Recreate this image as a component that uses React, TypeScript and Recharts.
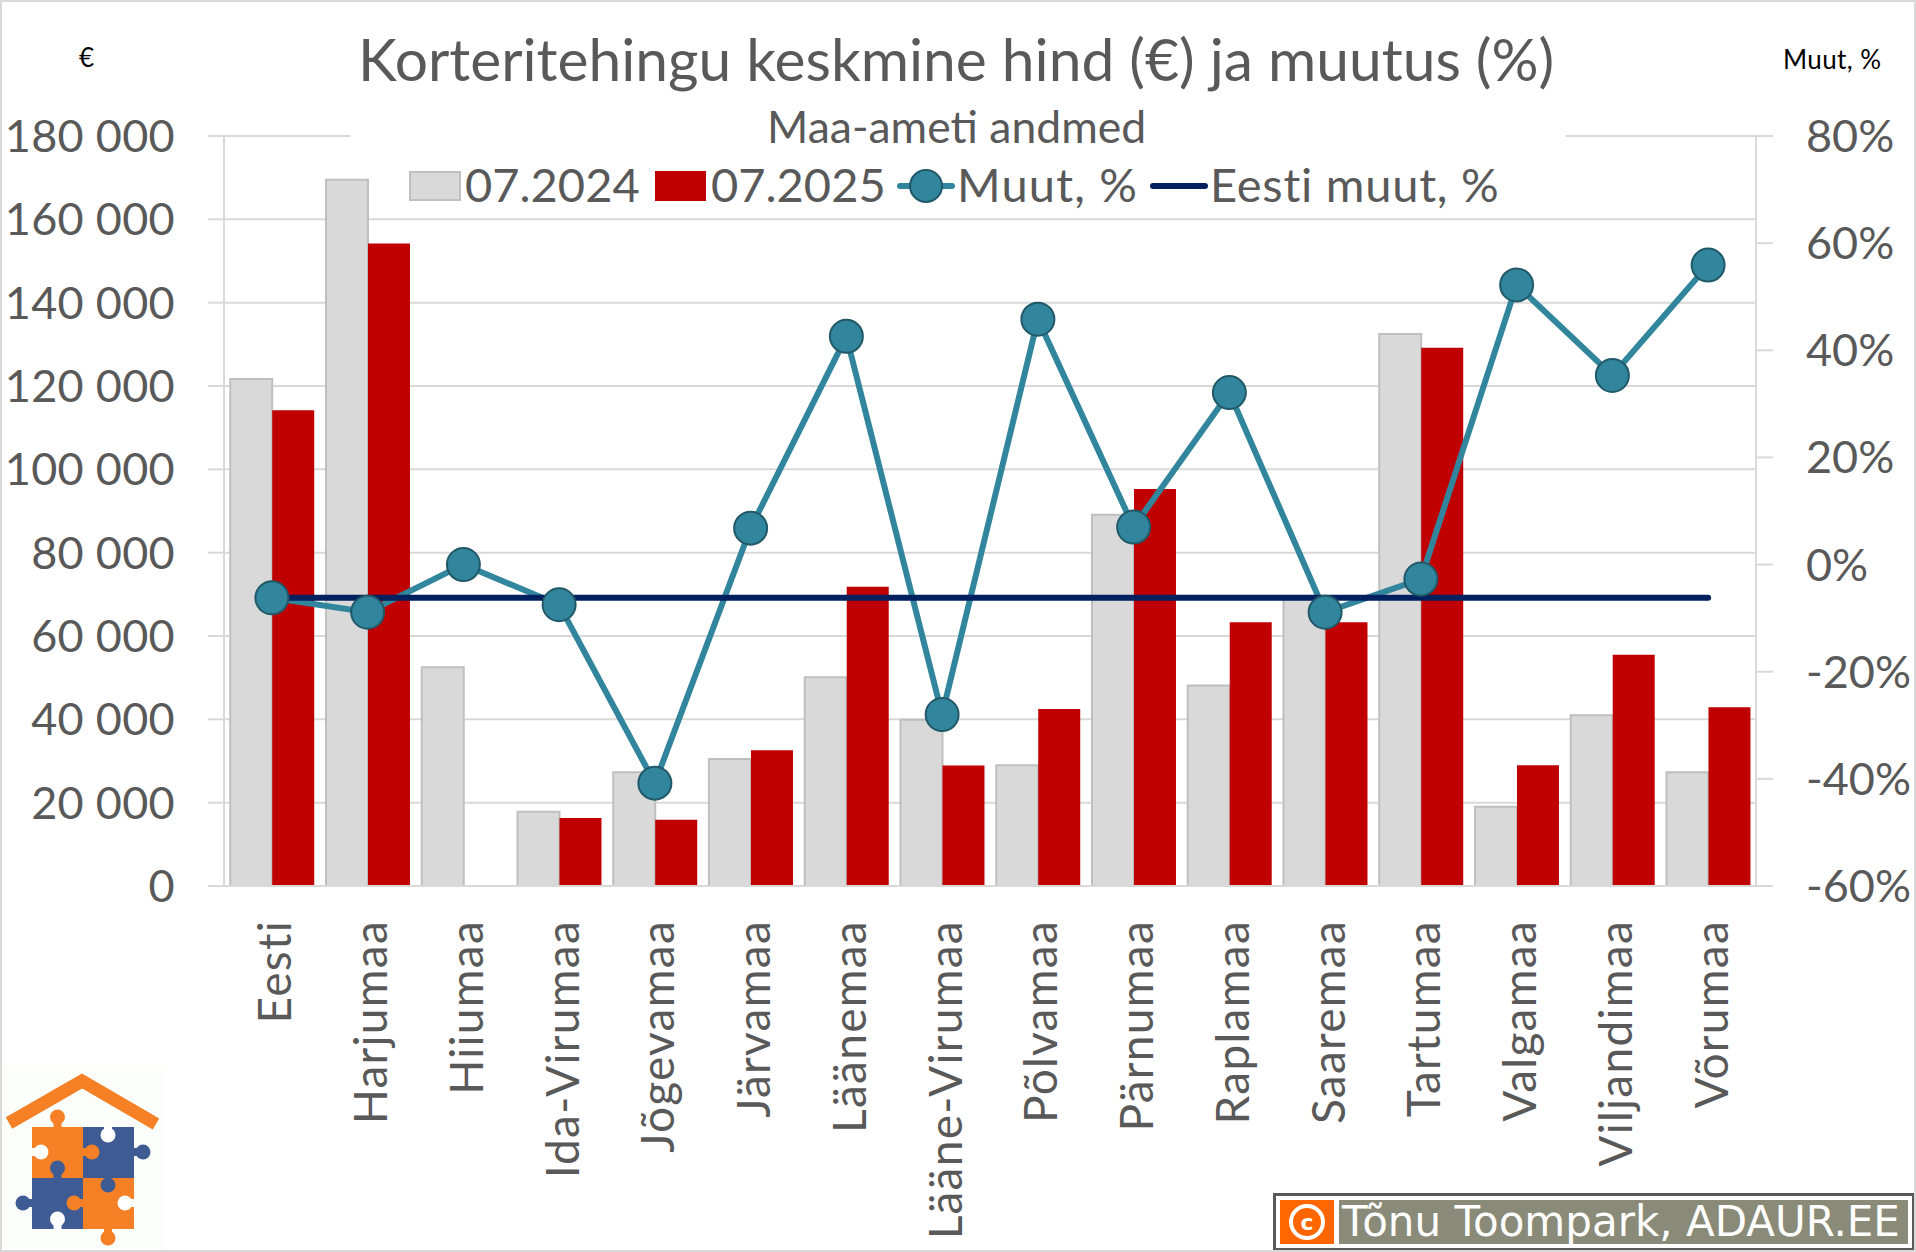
import React from 'react';
import { ComposedChart, Bar, Line, XAxis, YAxis, CartesianGrid, Legend } from 'recharts';

const categories = ['Eesti','Harjumaa','Hiiumaa','Ida-Virumaa','Jõgevamaa','Järvamaa','Läänemaa','Lääne-Virumaa','Põlvamaa','Pärnumaa','Raplamaa','Saaremaa','Tartumaa','Valgamaa','Viljandimaa','Võrumaa'];
const price2024 = [121700,169500,52500,17800,27300,30500,50100,39900,29000,89100,48100,69000,132500,19000,41000,27300];
const price2025 = [114200,154200,null,16300,15900,32600,71800,28900,42500,95300,63300,63300,129200,29000,55500,42900];
const change = [-6.2,-8.9,0,-7.5,-40.8,6.8,42.6,-28,45.8,7,32.1,-8.9,-2.7,52.2,35.3,55.9];
const eestiChange = [-6.2,-6.2,-6.2,-6.2,-6.2,-6.2,-6.2,-6.2,-6.2,-6.2,-6.2,-6.2,-6.2,-6.2,-6.2,-6.2];
const leftTicks = [0,20000,40000,60000,80000,100000,120000,140000,160000,180000];
const rightTicks = [-60,-40,-20,0,20,40,60,80];
const titleText = 'Korteritehingu keskmine hind (€) ja muutus (%)';
const subtitleText = 'Maa-ameti andmed';
const creditText = 'Tõnu Toompark, ADAUR.EE';

const rows = categories.map((name, i) => ({ name, p24: price2024[i], p25: price2025[i], muut: change[i], eesti: eestiChange[i] }));

const FONT = 'Lato, Carlito, Calibri, sans-serif';
const GREY = '#595959';
const LINE = '#d9d9d9';
const TEAL = '#31859c';
const TEAL_DARK = '#215968';
const NAVY = '#002060';
const ORANGE = '#f58026';
const BLUE = '#3f5b93';

const fmt = (v: number) => String(v).replace(/\B(?=(\d{3})+$)/g, ' ');

const XTick = (props: any) => {
  const { x, y, payload } = props;
  const px = x + 2;
  return (
    <text x={px} y={y} transform={`rotate(-90 ${px} ${y})`} textAnchor="end" dominantBaseline="central" fontFamily={FONT} fontSize={46} letterSpacing={1.25} fill={GREY}>
      {payload.value}
    </text>
  );
};

// The top gridline is interrupted where the subtitle and legend sit.
const GridLine = (p: any) => {
  const common = { stroke: LINE, strokeWidth: 2, y1: p.y1, y2: p.y2, fill: 'none' };
  if (Math.abs(p.y1 - 136) < 1) {
    return (
      <g key={p.key}>
        <line {...common} x1={p.x1} x2={350} />
        <line {...common} x1={1566} x2={p.x2} />
      </g>
    );
  }
  return <line key={p.key} {...common} x1={p.x1} x2={p.x2} />;
};

const LegendBox = () => {
  const lab = (left: number, spacing: number): React.CSSProperties => ({ position: 'absolute', left, top: 0, fontSize: 47, color: GREY, lineHeight: '54px', fontFamily: FONT, letterSpacing: spacing, whiteSpace: 'nowrap' });
  return (
    <div style={{ position: 'relative', width: 1216, height: 58 }}>
      <span style={{ position: 'absolute', left: 59, top: 14, width: 52, height: 30, background: LINE, border: '2px solid #bfbfbf', boxSizing: 'border-box' }} />
      <span style={lab(115, 0)}>07.2024</span>
      <span style={{ position: 'absolute', left: 305, top: 14, width: 51, height: 30, background: '#c00000' }} />
      <span style={lab(361, 0)}>07.2025</span>
      <svg width={60} height={40} style={{ position: 'absolute', left: 546, top: 9 }}>
        <line x1={4} x2={56} y1={20} y2={20} stroke={TEAL} strokeWidth={6} strokeLinecap="round" />
        <circle cx={30} cy={20} r={16} fill={TEAL} stroke={TEAL_DARK} strokeWidth={2} />
      </svg>
      <span style={lab(607, 1.2)}>Muut, %</span>
      <svg width={60} height={40} style={{ position: 'absolute', left: 799, top: 9 }}>
        <line x1={4} x2={56} y1={20} y2={20} stroke={NAVY} strokeWidth={6} strokeLinecap="round" />
      </svg>
      <span style={lab(860, 0.75)}>Eesti muut, %</span>
    </div>
  );
};

const Logo = () => {
  const necks: Array<[number, number, number, number, string]> = [
    [51.5, 54, 8, 8, ORANGE],
    [30, 82, 9, 8, '#fff'],
    [80, 82, 4, 8, ORANGE],
    [102, 60, 8, 4, '#fff'],
    [131, 82, 6, 8, BLUE],
    [51.5, 105, 8, 7, BLUE],
    [102, 107, 8, 5, BLUE],
    [16, 133, 15, 8, BLUE],
    [70, 133, 12, 8, ORANGE],
    [124, 133, 9, 8, '#fff'],
    [51.5, 156, 8, 7, '#fff'],
    [102, 160, 8, 8, ORANGE],
  ];
  const dots: Array<[number, number, string]> = [
    [55.5, 51, ORANGE], [39, 86, '#fff'], [90, 86, ORANGE], [106, 69, '#fff'],
    [141, 86, BLUE], [55.5, 102, BLUE], [106, 119, BLUE], [21, 137, BLUE],
    [72, 137, ORANGE], [123, 137, '#fff'], [55.5, 153, '#fff'], [106, 172, ORANGE],
  ];
  return (
    <svg width={163} height={184} viewBox="0 0 163 184" style={{ position: 'absolute', left: 2, top: 1066, background: '#fcfefc' }}>
      <polyline points="7,57 80,15 154,58" fill="none" stroke={ORANGE} strokeWidth={13} />
      <rect x={30} y={61} width={51} height={51} fill={ORANGE} />
      <rect x={81} y={61} width={51} height={51} fill={BLUE} />
      <rect x={30} y={112} width={51} height={51} fill={BLUE} />
      <rect x={81} y={112} width={51} height={51} fill={ORANGE} />
      {necks.map(([x, y, w, h, c], i) => <rect key={i} x={x} y={y} width={w} height={h} fill={c} />)}
      {dots.map(([cx, cy, c], i) => <circle key={i} cx={cx} cy={cy} r={7.5} fill={c} />)}
    </svg>
  );
};

const Credit = () => (
  <div style={{ position: 'absolute', left: 1273, top: 1193, width: 642, height: 58, boxSizing: 'border-box', border: '3px solid #595959', background: '#fff', padding: 4, display: 'flex', gap: 5 }}>
    <div style={{ width: 54, background: '#ff6600', display: 'flex', alignItems: 'center', justifyContent: 'center' }}>
      <svg width={42} height={42} viewBox="0 0 42 42">
        <circle cx={21} cy={21} r={16} fill="none" stroke="#fff" strokeWidth={4} />
        <text x={21} y={29} textAnchor="middle" fontFamily="DejaVu Sans" fontWeight={700} fontSize={22} fill="#fff">c</text>
      </svg>
    </div>
    <div style={{ flex: 1, background: '#8a8a78', color: '#fff', fontFamily: 'DejaVu Sans', fontSize: 42, lineHeight: '44px', whiteSpace: 'nowrap', paddingLeft: 3 }}>{creditText}</div>
  </div>
);

const abs = (left: number, top: number, extra: React.CSSProperties): React.CSSProperties => ({ position: 'absolute', left, top, whiteSpace: 'nowrap', fontFamily: FONT, ...extra });

export default function App() {
  return (
    <div style={{ position: 'absolute', left: 0, top: 0, width: 1916, height: 1252, background: '#fff', overflow: 'hidden' }}>
      <ComposedChart width={1916} height={1252} data={rows} margin={{ top: 136, right: 0, bottom: 0, left: 0 }} barCategoryGap="6.5%" barGap={0}>
        <CartesianGrid yAxisId="left" vertical={false} horizontal={GridLine} stroke={LINE} strokeWidth={2} />
        <XAxis dataKey="name" height={366} interval={0} tick={<XTick />} tickLine={false} tickMargin={28} stroke={LINE} axisLine={{ stroke: LINE, strokeWidth: 2 }} />
        <YAxis yAxisId="left" width={224} domain={[0, 180000]} ticks={leftTicks} tickFormatter={fmt} tick={{ fontSize: 45, fill: GREY, fontFamily: FONT, letterSpacing: 0.3 }} tickSize={16} tickMargin={33} tickLine={{ stroke: LINE, strokeWidth: 2 }} axisLine={{ stroke: LINE, strokeWidth: 2 }} />
        <YAxis yAxisId="right" orientation="right" width={160} domain={[-60, 80]} ticks={rightTicks} tickFormatter={(v: number) => `${v}%`} tick={{ fontSize: 45, fill: GREY, fontFamily: FONT }} tickSize={17} tickMargin={33} tickLine={{ stroke: LINE, strokeWidth: 2 }} axisLine={{ stroke: LINE, strokeWidth: 2 }} />
        <Bar yAxisId="left" dataKey="p24" name="07.2024" fill={LINE} stroke="#bfbfbf" strokeWidth={2} isAnimationActive={false} />
        <Bar yAxisId="left" dataKey="p25" name="07.2025" fill="#c00000" isAnimationActive={false} />
        <Line yAxisId="right" dataKey="muut" name="Muut, %" stroke={TEAL} strokeWidth={6} dot={{ r: 16.5, fill: TEAL, stroke: TEAL_DARK, strokeWidth: 2 }} activeDot={false} isAnimationActive={false} />
        <Line yAxisId="right" dataKey="eesti" name="Eesti muut, %" stroke={NAVY} strokeWidth={6} strokeLinecap="round" dot={false} activeDot={false} isAnimationActive={false} />
        <Legend content={<LegendBox />} verticalAlign="middle" align="center" layout="horizontal" wrapperStyle={{ left: 350, top: 157, width: 1216, height: 58 }} />
      </ComposedChart>
      <div style={abs(358, 25, { fontSize: 58.7, color: GREY, lineHeight: '68px' })}>{titleText}</div>
      <div style={abs(767, 102, { fontSize: 44.5, color: GREY, lineHeight: '48px' })}>{subtitleText}</div>
      <div style={abs(79, 42, { fontSize: 26, color: '#000', lineHeight: '30px' })}>€</div>
      <div style={abs(1783, 44, { fontSize: 26, color: '#000', lineHeight: '30px', letterSpacing: 0.4 })}>Muut, %</div>
      <Logo />
      <Credit />
      <div style={{ position: 'absolute', inset: 0, border: '2px solid #d9d9d9', pointerEvents: 'none' }} />
    </div>
  );
}
